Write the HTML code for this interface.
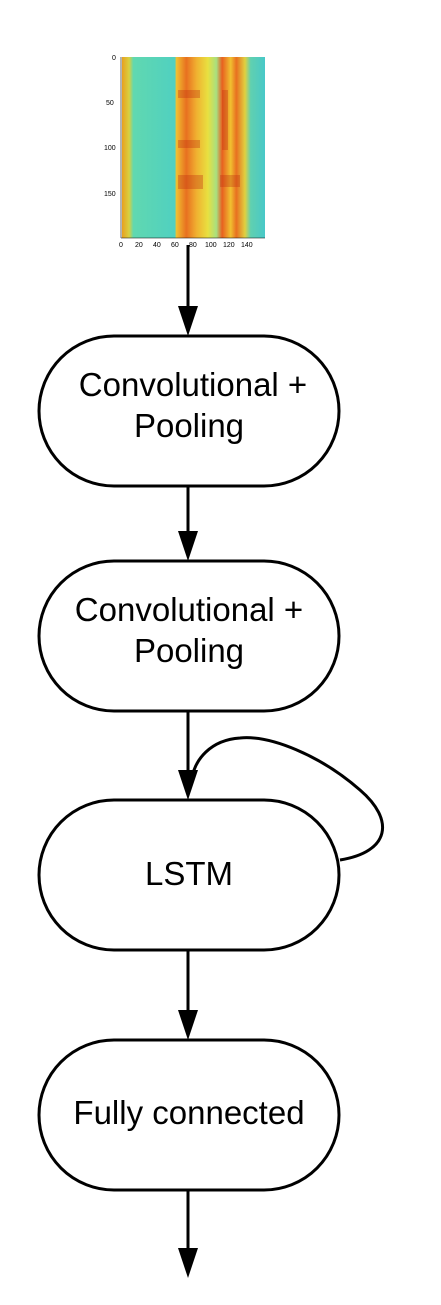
<!DOCTYPE html>
<html><head><meta charset="utf-8"><style>
body{margin:0;background:#fff;}
svg{display:block;}
text{font-family:"Liberation Sans",sans-serif;}
</style></head><body>
<svg width="441" height="1305" viewBox="0 0 441 1305" xmlns="http://www.w3.org/2000/svg">
<defs>
<linearGradient id="sp" x1="0" x2="1" y1="0" y2="0">
<stop offset="0" stop-color="#e8a020"/>
<stop offset="0.05" stop-color="#d8d040"/>
<stop offset="0.08" stop-color="#60d8b0"/>
<stop offset="0.37" stop-color="#50d0c0"/>
<stop offset="0.38" stop-color="#f0c030"/>
<stop offset="0.45" stop-color="#e87020"/>
<stop offset="0.52" stop-color="#f0b030"/>
<stop offset="0.6" stop-color="#e8e040"/>
<stop offset="0.66" stop-color="#a8e080"/>
<stop offset="0.7" stop-color="#e86020"/>
<stop offset="0.76" stop-color="#f0c030"/>
<stop offset="0.8" stop-color="#e87020"/>
<stop offset="0.86" stop-color="#e0d040"/>
<stop offset="0.9" stop-color="#60d0b0"/>
<stop offset="1" stop-color="#48c8c8"/>
</linearGradient>
</defs>
<rect x="122" y="57" width="143" height="181" fill="url(#sp)"/>
<g fill="#c03010" opacity="0.35">
<rect x="178" y="90" width="22" height="8"/><rect x="178" y="140" width="22" height="8"/><rect x="178" y="175" width="25" height="14"/><rect x="220" y="175" width="20" height="12"/><rect x="222" y="90" width="6" height="60"/>
</g>
<g stroke="#000" stroke-width="0.6" fill="none"><line x1="121" y1="57" x2="121" y2="238"/><line x1="121" y1="238" x2="265" y2="238"/></g>
<g font-size="7" fill="#000">
<text x="112" y="60">0</text><text x="106" y="105">50</text><text x="104" y="150">100</text><text x="104" y="196">150</text>
<text x="119" y="247">0</text><text x="135" y="247">20</text><text x="153" y="247">40</text><text x="171" y="247">60</text><text x="189" y="247">80</text><text x="205" y="247">100</text><text x="223" y="247">120</text><text x="241" y="247">140</text>
</g>
<g stroke="#000" stroke-width="3" fill="#fff">
<rect x="39" y="336" width="300" height="150" rx="75"/>
<rect x="39" y="561" width="300" height="150" rx="75"/>
<rect x="39" y="800" width="300" height="150" rx="75"/>
<rect x="39" y="1040" width="300" height="150" rx="75"/>
</g>
<g stroke="#000" stroke-width="3" fill="none">
<line x1="188" y1="245" x2="188" y2="310"/>
<line x1="188" y1="486" x2="188" y2="535"/>
<line x1="188" y1="711" x2="188" y2="775"/>
<line x1="188" y1="950" x2="188" y2="1015"/>
<line x1="188" y1="1190" x2="188" y2="1252"/>
<path d="M340 860 C390 852 395 820 360 790 C320 755 270 735 240 738 C210 740 195 760 192 778"/>
</g>
<g fill="#000">
<polygon points="178,306 198,306 188,336"/>
<polygon points="178,531 198,531 188,561"/>
<polygon points="178,770 198,770 188,800"/>
<polygon points="178,1010 198,1010 188,1040"/>
<polygon points="178,1248 198,1248 188,1278"/>
</g>
<g font-size="33" fill="#000" text-anchor="middle">
<text x="193" y="396">Convolutional +</text><text x="189" y="437">Pooling</text>
<text x="189" y="621">Convolutional +</text><text x="189" y="662">Pooling</text>
<text x="189" y="885">LSTM</text>
<text x="189" y="1124">Fully connected</text>
</g>
</svg>
</body></html>
